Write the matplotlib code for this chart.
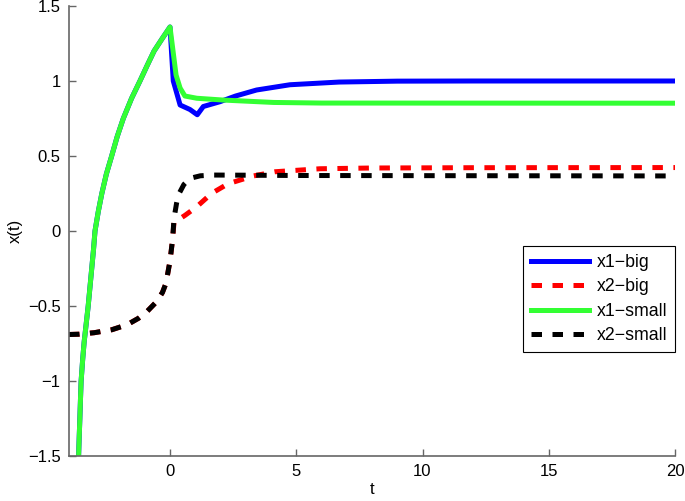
import matplotlib.pyplot as plt
import numpy as np

plt.rcParams['font.family'] = ['Liberation Sans', 'DejaVu Sans']

# shared rising part for t <= 0 (x1)
rise_t = [-3.62, -3.595, -3.57, -3.545, -3.52, -3.46, -3.40, -3.32, -3.24, -3.17, -3.10, -3.03, -2.97,
          -2.84, -2.70, -2.52, -2.31, -2.09, -1.85, -1.52, -1.19, -0.9, -0.63, -0.3, 0.0]
rise_x = [-1.5, -1.37, -1.25, -1.12, -1.0, -0.86, -0.74, -0.62, -0.5, -0.375, -0.25, -0.125, 0.0,
          0.13, 0.25, 0.38, 0.5, 0.63, 0.75, 0.885, 1.0, 1.105, 1.2, 1.285, 1.36]

x1_big_t = [0.13, 0.4, 0.79, 1.08, 1.32, 1.98, 2.6, 3.43, 4.75, 6.7, 9.0, 12.0, 20.0]
x1_big_x = [1.0, 0.84, 0.81, 0.775, 0.83, 0.862, 0.90, 0.94, 0.975, 0.993, 0.999, 1.0, 1.0]

x1_small_t = [0.24, 0.4, 0.59, 1.06, 2.1, 4.1, 6.0, 20.0]
x1_small_x = [1.04, 0.953, 0.9, 0.885, 0.873, 0.857, 0.853, 0.852]

x2_small_t = [-4.0, -3.6, -3.0, -2.3, -1.7, -1.25, -0.9, -0.53, -0.3, -0.16, 0.0, 0.1, 0.16,
              0.26, 0.33, 0.55, 0.79, 1.2, 1.7, 3.0, 5.0, 20.0]
x2_small_x = [-0.69, -0.688, -0.678, -0.658, -0.625, -0.582, -0.535, -0.471, -0.41, -0.349, -0.2, -0.06, 0.085,
              0.185, 0.24, 0.31, 0.351, 0.368, 0.373, 0.372, 0.37, 0.367]

x2_big_t = [-4.0, -3.6, -3.0, -2.3, -1.7, -1.25, -0.9, -0.53, -0.3, -0.16, 0.0, 0.1, 0.16,
            0.33, 0.6, 1.06, 1.65, 2.3, 3.3, 4.16, 5.94, 8.0, 12.0, 20.0]
x2_big_x = [-0.69, -0.688, -0.678, -0.658, -0.625, -0.582, -0.535, -0.471, -0.41, -0.349, -0.2, -0.06, 0.06,
            0.075, 0.105, 0.162, 0.251, 0.315, 0.367, 0.395, 0.415, 0.42, 0.422, 0.423]

labels = ['x1\u2212big', 'x2\u2212big', 'x1\u2212small', 'x2\u2212small']

fig = plt.figure(figsize=(6.85, 5.01), dpi=100)
ax = fig.add_axes([69/685, 1-456/501, (675-69)/685, (456-6)/501])

lw = 3.6
dash = (0, (2.1, 2.1))
ax.plot(rise_t + x1_big_t, rise_x + x1_big_x, color=(0, 0, 1), lw=lw, label=labels[0])
ax.plot(x2_big_t, x2_big_x, color=(1, 0, 0), lw=lw, linestyle=dash, dash_capstyle='butt', label=labels[1])
ax.plot(rise_t + x1_small_t, rise_x + x1_small_x, color=(0.2, 1, 0.2), lw=lw, label=labels[2])
ax.plot(x2_small_t, x2_small_x, color='black', lw=lw, linestyle=dash, dash_capstyle='butt', label=labels[3])

ax.set_xlim(-4, 20)
ax.set_ylim(-1.5, 1.5)
ax.set_xticks([0, 5, 10, 15, 20])
ax.set_yticks([-1.5, -1, -0.5, 0, 0.5, 1, 1.5])
ax.set_yticklabels(['\u22121.5', '\u22121', '\u22120.5', '0', '0.5', '1', '1.5'])

for s in ['top', 'right']:
    ax.spines[s].set_visible(False)
for s in ['left', 'bottom']:
    ax.spines[s].set_color('#666666')
    ax.spines[s].set_linewidth(1.2)
ax.tick_params(direction='in', length=5, width=1, color='#666666', labelsize=12, pad=6)

ax.set_xlabel('t', fontsize=12, labelpad=2)
ax.set_ylabel('x(t)', fontsize=12, labelpad=4)

leg = ax.legend(loc='upper right', bbox_to_anchor=(675/685, 1-246/501), bbox_transform=fig.transFigure,
                borderaxespad=0, fontsize=12.8, fancybox=False, edgecolor='black', framealpha=1,
                handlelength=3.3, handletextpad=0.4, labelspacing=0.42, borderpad=0.45)
leg.get_frame().set_linewidth(0.8)

fig.savefig('out.png', dpi=100)
